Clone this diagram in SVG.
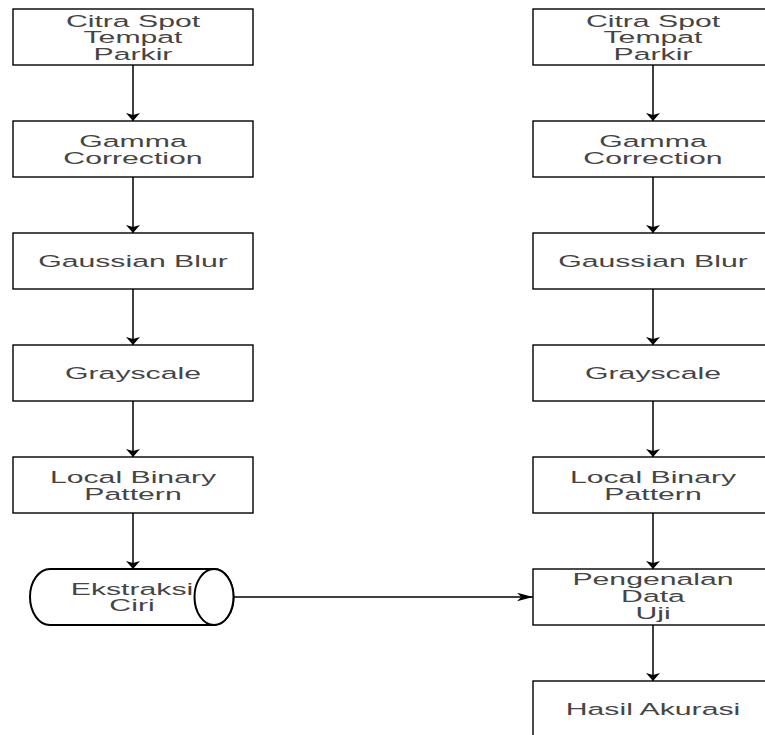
<svg xmlns="http://www.w3.org/2000/svg" width="765" height="735" viewBox="0 0 765 735">
<style>
.box{fill:#ffffff;stroke:#000000;stroke-width:1.4}
.cyl{fill:#ffffff;stroke:#000000;stroke-width:2}
.lbl{font-family:"Liberation Sans",Arial,sans-serif;font-size:16.5px;fill:#454545;text-anchor:middle}
.edge{fill:none;stroke:#000000;stroke-width:1.5}
</style>
<defs>
<marker id="av" markerUnits="userSpaceOnUse" markerWidth="9" markerHeight="15" refX="8" refY="7" orient="auto" viewBox="0 0 9 14">
<path d="M0,0 L8,7 L0,14 L2,7 Z" fill="#000"/>
</marker>
<marker id="ah" markerUnits="userSpaceOnUse" markerWidth="16" markerHeight="9" refX="15" refY="4" orient="auto" viewBox="0 0 15 8">
<path d="M0,0 L15,4 L0,8 L4,4 Z" fill="#000"/>
</marker>
</defs>
<rect width="765" height="735" fill="#ffffff"/>
<g id="connectors">
<line class="edge" x1="133" y1="65" x2="133" y2="121" marker-end="url(#av)"/>
<line class="edge" x1="133" y1="177" x2="133" y2="233" marker-end="url(#av)"/>
<line class="edge" x1="133" y1="289" x2="133" y2="345" marker-end="url(#av)"/>
<line class="edge" x1="133" y1="401" x2="133" y2="457" marker-end="url(#av)"/>
<line class="edge" x1="133" y1="513" x2="133" y2="569" marker-end="url(#av)"/>
<line class="edge" x1="653" y1="65" x2="653" y2="121" marker-end="url(#av)"/>
<line class="edge" x1="653" y1="177" x2="653" y2="233" marker-end="url(#av)"/>
<line class="edge" x1="653" y1="289" x2="653" y2="345" marker-end="url(#av)"/>
<line class="edge" x1="653" y1="401" x2="653" y2="457" marker-end="url(#av)"/>
<line class="edge" x1="653" y1="513" x2="653" y2="569" marker-end="url(#av)"/>
<line class="edge" x1="653" y1="625" x2="653" y2="681" marker-end="url(#av)"/>
<line class="edge" x1="233" y1="597" x2="533" y2="597" marker-end="url(#ah)"/>
</g>
<g id="l1"><rect class="box" x="13" y="9" width="240" height="56"/>
<g transform="translate(133,0) scale(1.83,1)"><text class="lbl" x="0" y="27">Citra Spot</text><text class="lbl" x="0" y="43.5">Tempat</text><text class="lbl" x="0" y="60">Parkir</text></g></g>
<g id="l2"><rect class="box" x="13" y="121" width="240" height="56"/>
<g transform="translate(133,0) scale(1.83,1)"><text class="lbl" x="0" y="147">Gamma</text><text class="lbl" x="0" y="164">Correction</text></g></g>
<g id="l3"><rect class="box" x="13" y="233" width="240" height="56"/>
<g transform="translate(133,0) scale(1.83,1)"><text class="lbl" x="0" y="267">Gaussian Blur</text></g></g>
<g id="l4"><rect class="box" x="13" y="345" width="240" height="56"/>
<g transform="translate(133,0) scale(1.83,1)"><text class="lbl" x="0" y="379">Grayscale</text></g></g>
<g id="l5"><rect class="box" x="13" y="457" width="240" height="56"/>
<g transform="translate(133,0) scale(1.83,1)"><text class="lbl" x="0" y="483">Local Binary</text><text class="lbl" x="0" y="500">Pattern</text></g></g>
<g id="l6">
<path class="cyl" d="M50,569 L214,569 A19.5,28 0 0 1 214,625 L50,625 A20,28 0 0 1 50,569 Z"/>
<ellipse class="cyl" cx="214" cy="597" rx="19.5" ry="28"/>
<g transform="translate(132,0) scale(1.83,1)"><text class="lbl" x="0" y="595">Ekstraksi</text><text class="lbl" x="0" y="611.5">Ciri</text></g></g>
<g id="r1"><rect class="box" x="533" y="9" width="240" height="56"/>
<g transform="translate(653,0) scale(1.83,1)"><text class="lbl" x="0" y="27">Citra Spot</text><text class="lbl" x="0" y="43.5">Tempat</text><text class="lbl" x="0" y="60">Parkir</text></g></g>
<g id="r2"><rect class="box" x="533" y="121" width="240" height="56"/>
<g transform="translate(653,0) scale(1.83,1)"><text class="lbl" x="0" y="147">Gamma</text><text class="lbl" x="0" y="164">Correction</text></g></g>
<g id="r3"><rect class="box" x="533" y="233" width="240" height="56"/>
<g transform="translate(653,0) scale(1.83,1)"><text class="lbl" x="0" y="267">Gaussian Blur</text></g></g>
<g id="r4"><rect class="box" x="533" y="345" width="240" height="56"/>
<g transform="translate(653,0) scale(1.83,1)"><text class="lbl" x="0" y="379">Grayscale</text></g></g>
<g id="r5"><rect class="box" x="533" y="457" width="240" height="56"/>
<g transform="translate(653,0) scale(1.83,1)"><text class="lbl" x="0" y="483">Local Binary</text><text class="lbl" x="0" y="500">Pattern</text></g></g>
<g id="r6"><rect class="box" x="533" y="569" width="240" height="56"/>
<g transform="translate(653,0) scale(1.83,1)"><text class="lbl" x="0" y="585">Pengenalan</text><text class="lbl" x="0" y="602">Data</text><text class="lbl" x="0" y="619">Uji</text></g></g>
<g id="r7"><rect class="box" x="533" y="681" width="240" height="60"/>
<g transform="translate(653,0) scale(1.83,1)"><text class="lbl" x="0" y="715">Hasil Akurasi</text></g></g>
</svg>
